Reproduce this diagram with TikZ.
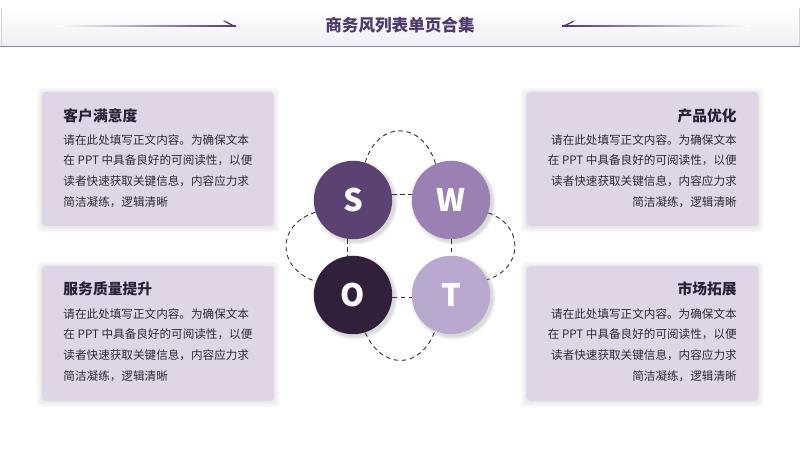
\documentclass[tikz,border=0pt]{standalone}
\usepackage{fontspec}
\setmainfont{Noto Sans CJK SC}
\usepackage{tikz}
\usetikzlibrary{calc,backgrounds}
\definecolor{swotdark}{HTML}{5A4272}
\definecolor{swotmid}{HTML}{9B80B3}
\definecolor{swotink}{HTML}{30203C}
\definecolor{swotpale}{HTML}{B9A9CF}
\definecolor{cardfill}{HTML}{DFD5E6}
\definecolor{titleink}{HTML}{4E3A6B}
\definecolor{headink}{HTML}{2C2238}
\definecolor{bodyink}{HTML}{2F2938}
\definecolor{barfill}{HTML}{F2EEF6}
\definecolor{barline}{HTML}{8A8298}
\tikzstyle{cardbox} = [rectangle, rounded corners=3pt, fill=cardfill, minimum width=5.8cm, inner sep=0pt]
\tikzstyle{cardhead} = [inner sep=0pt, text=headink, font=\fontsize{10.5}{12}\selectfont\bfseries]
\tikzstyle{cardbody} = [inner sep=0pt, text=bodyink, font=\fontsize{8.25}{14.7}\selectfont]
\tikzstyle{swotball} = [circle, minimum size=1.96cm, inner sep=0pt, text=white, font=\fontsize{22}{22}\selectfont\bfseries]
\tikzstyle{link} = [line width=0.65pt, color=black!80, dash pattern=on 3.2pt off 2.6pt]
\begin{document}
\begin{tikzpicture}
\useasboundingbox (0,0) rectangle (20,-11.25);

% Header
\shade[top color=white, bottom color=barfill] (0,-0.2) rectangle (20,-1.15);
\draw[barline, line width=0.7pt] (0,-1.16) -- (20,-1.16);
\draw[barline!35, line width=0.3pt] (0.03,-0.2) -- (0.03,-1.16);
\draw[barline!35, line width=0.3pt] (19.97,-0.2) -- (19.97,-1.16);
\node[inner sep=0pt, text=titleink, font=\fontsize{11.8}{14}\selectfont\bfseries] (title) at (10,-0.64) {商务风列表单页合集};
\shade[left color=white, right color=titleink] (1.4,-0.63) rectangle (5.9,-0.655);
\fill[titleink] (5.9,-0.655) -- (5.58,-0.5) -- (5.62,-0.55) -- (5.82,-0.655) -- cycle;
\shade[left color=titleink, right color=white] (14.05,-0.63) rectangle (18.75,-0.655);
\fill[titleink] (14.05,-0.655) -- (14.37,-0.5) -- (14.33,-0.55) -- (14.13,-0.655) -- cycle;

% Cards
\node[cardbox, minimum height=3.35cm] (custcard) at (3.95,-3.975) {};
\node[cardbox, minimum height=3.375cm] (servcard) at (3.95,-8.3375) {};
\node[cardbox, minimum height=3.35cm] (prodcard) at (16.06,-3.975) {};
\node[cardbox, minimum height=3.375cm] (markcard) at (16.06,-8.3375) {};

\node[cardhead, anchor=west] (custhead) at (1.58,-2.9) {客户满意度};
\node[cardbody, anchor=west, align=left] (custbody) at (1.58,-4.275) {请在此处填写正文内容。为确保文本\\在 PPT 中具备良好的可阅读性，以便\\读者快速获取关键信息，内容应力求\\简洁凝练，逻辑清晰};
\node[cardhead, anchor=west] (servhead) at (1.58,-7.225) {服务质量提升};
\node[cardbody, anchor=west, align=left] (servbody) at (1.58,-8.625) {请在此处填写正文内容。为确保文本\\在 PPT 中具备良好的可阅读性，以便\\读者快速获取关键信息，内容应力求\\简洁凝练，逻辑清晰};
\node[cardhead, anchor=east] (prodhead) at (18.425,-2.9) {产品优化};
\node[cardbody, anchor=east, align=right] (prodbody) at (18.425,-4.275) {请在此处填写正文内容。为确保文本\\在 PPT 中具备良好的可阅读性，以便\\读者快速获取关键信息，内容应力求\\简洁凝练，逻辑清晰};
\node[cardhead, anchor=east] (markhead) at (18.425,-7.225) {市场拓展};
\node[cardbody, anchor=east, align=right] (markbody) at (18.425,-8.625) {请在此处填写正文内容。为确保文本\\在 PPT 中具备良好的可阅读性，以便\\读者快速获取关键信息，内容应力求\\简洁凝练，逻辑清晰};

% SWOT
\node[swotball, fill=swotdark] (s) at (8.825,-5) {S};
\node[swotball, fill=swotmid] (w) at (11.275,-5) {W};
\node[swotball, fill=swotink] (o) at (8.825,-7.375) {O};
\node[swotball, fill=swotpale] (t) at (11.275,-7.375) {T};

\draw[link] (s.8) -- (w.172);
\draw[link] (s.262) -- (o.98);
\draw[link] (w.270) -- (t.90);
\draw[link] (o.356) -- (t.184);
\draw[link] (s.72) .. controls (9.45,-3) and (10.55,-3) .. (w.113);
\draw[link] (s.198) .. controls (6.9,-5.625) and (6.9,-6.7) .. (o.160);
\draw[link] (w.341) .. controls (13.1,-5.625) and (13.1,-6.7) .. (t.23);
\draw[link] (o.288) .. controls (9.55,-9.25) and (10.5,-9.25) .. (t.246);

% Soft shadows
\begin{scope}[on background layer]
\foreach \n in {custcard,servcard,prodcard,markcard}
  \foreach \g in {0.02,0.04,...,0.14}
    \fill[black, opacity=0.01, rounded corners=3pt] ($(\n.south west)+(-\g,-\g-0.02)$) rectangle ($(\n.north east)+(\g,\g-0.02)$);
\foreach \n in {s,w,o,t}
  \foreach \g in {0.98,1.0,...,1.08}
    \fill[black, opacity=0.03] ($(\n)+(0.06,-0.06)$) circle (\g);
\end{scope}
\end{tikzpicture}
\end{document}
